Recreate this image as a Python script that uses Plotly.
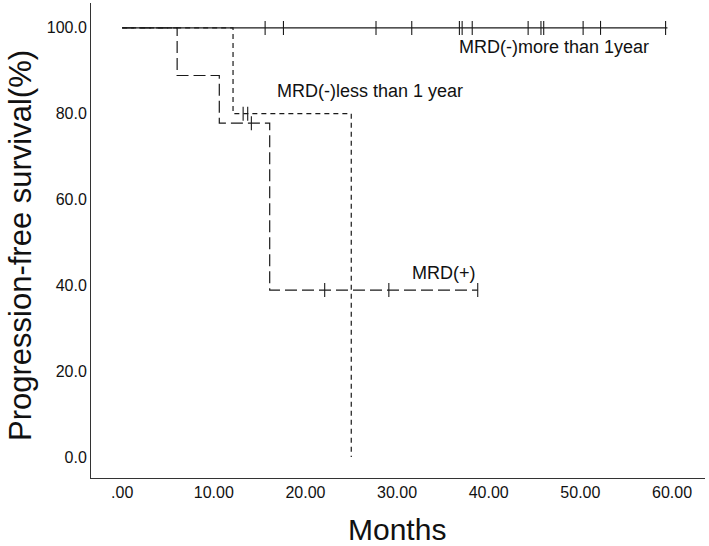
import plotly.graph_objects as go

# MRD(+) group (long dash)
pos_times = [0, 6.0, 10.6, 16.1, 38.8]
pos_surv = [100, 88.9, 77.8, 38.9, 38.9]
pos_cens_t = [14.1, 22.1, 29.1, 38.8]
pos_cens_s = [77.8, 38.9, 38.9, 38.9]

# MRD(-) less than 1 year (short dash)
less_times = [0, 12.1, 25.0]
less_surv = [100, 80.0, 0.0]
less_cens_t = [13.2, 13.7]
less_cens_s = [80.0, 80.0]

# MRD(-) more than 1 year (solid)
more_times = [0, 59.5]
more_surv = [100, 100]
more_cens_t = [15.6, 17.6, 27.7, 31.6, 36.8, 37.1, 38.2, 44.3, 45.7, 46.0, 50.3, 52.2, 59.3]
more_cens_s = [100] * len(more_cens_t)

x_ticks = [0, 10, 20, 30, 40, 50, 60]
x_ticktext = [".00", "10.00", "20.00", "30.00", "40.00", "50.00", "60.00"]
y_ticks = [0, 20, 40, 60, 80, 100]
y_ticktext = ["0.0", "20.0", "40.0", "60.0", "80.0", "100.0"]

LC = "#1a1a1a"
fig = go.Figure()

def add_group(t, s, ct, cs, dash):
    fig.add_trace(go.Scatter(x=t, y=s, mode="lines", line=dict(color=LC, width=1.2, dash=dash, shape="hv"),
                             showlegend=False, hoverinfo="skip"))
    fig.add_trace(go.Scatter(x=ct, y=cs, mode="markers",
                             marker=dict(symbol="line-ns", size=10, line=dict(color=LC, width=1.1)),
                             showlegend=False, hoverinfo="skip"))

add_group(pos_times, pos_surv, pos_cens_t, pos_cens_s, "12px,5px")
add_group(less_times, less_surv, less_cens_t, less_cens_s, "5px,4px")
add_group(more_times, more_surv, more_cens_t, more_cens_s, "solid")

FONT = "Liberation Sans, Arial, sans-serif"
ann = [
    dict(x=36.5, y=95.6, text="MRD(-)more than 1year", xanchor="left", yanchor="middle"),
    dict(x=16.7, y=85.3, text="MRD(-)less than 1 year", xanchor="left", yanchor="middle"),
    dict(x=31.4, y=42.9, text="MRD(+)", xanchor="left", yanchor="middle"),
]
for a in ann:
    fig.add_annotation(**a, xref="x", yref="y", showarrow=False, font=dict(family=FONT, size=18, color="#111"))

fig.add_annotation(x=-0.116, y=0.49, xref="paper", yref="paper", text="Progression-free survival(%)",
                   textangle=-90, showarrow=False, font=dict(family=FONT, size=31, color="#111"),
                   xanchor="center", yanchor="middle")
fig.add_annotation(x=0.498, y=-0.109, xref="paper", yref="paper", text="Months",
                   showarrow=False, font=dict(family=FONT, size=30, color="#111"),
                   xanchor="center", yanchor="middle")

fig.update_layout(
    width=709, height=546,
    margin=dict(l=91, r=4, t=3, b=68),
    paper_bgcolor="white", plot_bgcolor="white",
    font=dict(family=FONT, size=16, color="#111"),
    xaxis=dict(range=[-3.4, 63.6], tickvals=x_ticks, ticktext=x_ticktext, showgrid=False, zeroline=False,
               showline=True, linecolor="#333", linewidth=1, ticks="", ticklen=0),
    yaxis=dict(range=[-4.9, 105.8], tickvals=y_ticks, ticktext=y_ticktext, showgrid=False, zeroline=False,
               showline=True, linecolor="#333", linewidth=1, ticks="", ticklen=0),
)

fig.write_html("out.html")
